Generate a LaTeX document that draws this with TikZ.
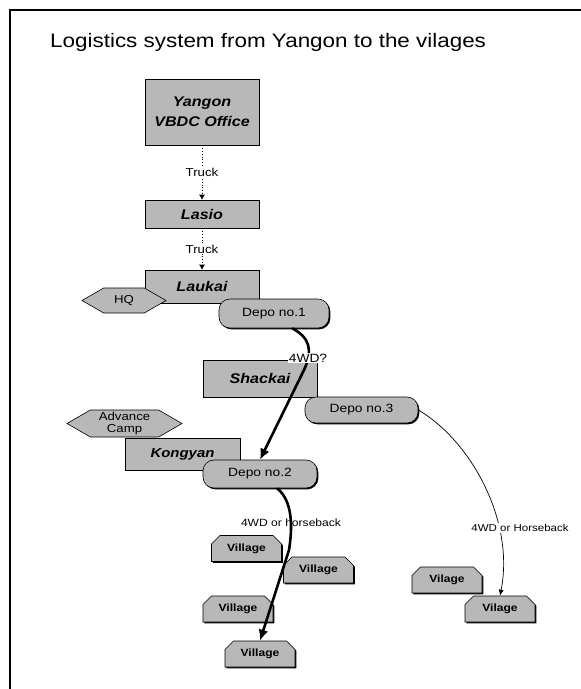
\documentclass[tikz,border=0pt]{standalone}
\usepackage{fontspec}
\setmainfont{Liberation Sans}[FakeStretch=1.15]
\usetikzlibrary{shapes.misc,shapes.symbols,shadows,arrows.meta}
\begin{document}
\begin{tikzpicture}[x=1pt,y=-1pt,
  boxfill/.style={fill=black!28},
  shd/.style={drop shadow={shadow xshift=1.3pt,shadow yshift=-1.3pt,fill=black,opacity=1}},
  place/.style={rectangle, draw=black, line width=0.6pt, boxfill, shd, inner sep=0pt,
    font=\fontsize{14}{20}\selectfont\bfseries\itshape, align=center},
  depo/.style={rectangle, rounded corners=11pt, draw=black, line width=0.6pt, boxfill, shd,
    inner sep=0pt, font=\fontsize{12}{14}\selectfont},
  camp/.style={signal, signal to=east and west, signal pointer angle=60, draw=black,
    line width=0.6pt, boxfill, inner sep=0pt, font=\fontsize{11.5}{12.5}\selectfont, align=center},
  vill/.style={chamfered rectangle, chamfered rectangle corners={north east,north west},
    chamfered rectangle xsep=6pt, draw=black, line width=0.6pt, boxfill, shd, inner sep=0pt,
    minimum width=70pt, minimum height=26pt, font=\fontsize{10.5}{12}\selectfont\bfseries},
  truckline/.style={dotted, line width=0.8pt, -{Latex[length=5pt,width=6pt]}},
  heavyline/.style={line width=2.6pt, -{Latex[length=11pt,width=10pt]}},
  lightline/.style={line width=0.7pt, -{Latex[length=6pt,width=5pt]}},
  lbl/.style={inner sep=1pt, font=\fontsize{11.5}{13}\selectfont}
]
\useasboundingbox (0,0) rectangle (581,689);
\fill[white] (0,0) rectangle (581,689);
% frame
\coordinate (fa) at (10,689);
\coordinate (fb) at (10,10);
\coordinate (fc) at (581,10);
\draw[line width=1.4pt] (fa) -- (fb) -- (fc);
% title
\node[anchor=west, inner sep=0pt, font=\fontsize{19.5}{22}\selectfont] (title) at (50,42)
  {Logistics system from Yangon to the vilages};
% top chain
\node[place, minimum width=114pt, minimum height=66pt] (yangon) at (202,112) {Yangon\\VBDC Office};
\node[place, minimum width=114pt, minimum height=28pt] (lasio) at (202,214) {Lasio};
\draw[truckline] (yangon.south) -- (lasio.north) node[midway, lbl, fill=white] (t1) {Truck};
\node[place, minimum width=114pt, minimum height=33pt] (laukai) at (202,286.5) {Laukai};
\draw[truckline] (lasio.south) -- (laukai.north) node[midway, lbl, fill=white] (t2) {Truck};
\node[camp, minimum width=84pt, minimum height=25pt] (hq) at (124,300.5) {HQ};
\node[depo, minimum width=110pt, minimum height=29pt] (d1) at (274,313.5) {Depo no.1};
\node[place, minimum width=114pt, minimum height=37pt] (shackai) at (260,378.5) {Shackai};
\node[depo, minimum width=113pt, minimum height=26pt] (d3) at (361.5,410) {Depo no.3};
\node[place, minimum width=115pt, minimum height=32pt, font=\fontsize{13}{15}\selectfont\bfseries\itshape] (kongyan) at (182.5,454) {Kongyan};
\node[camp, minimum width=115pt, minimum height=27pt] (adv) at (124.5,423.5) {Advance\\Camp};
\node[depo, minimum width=114pt, minimum height=28pt] (d2) at (260,474) {Depo no.2};
% villages
\node[vill] (v1) at (246.5,548.5) {Village};
\node[vill] (v2) at (318.5,570) {Village};
\node[vill] (v3) at (238,609) {Village};
\node[vill] (v4) at (260,654) {Village};
\node[vill] (v5) at (447,580) {Vilage};
\node[vill] (v6) at (500,609) {Vilage};
% connectors
\draw[heavyline] (d1.-39) .. controls (310,338) and (313,350) .. (304,370) -- (d2.north);
\draw[heavyline] (d2.-40) .. controls (292,500) and (293,525) .. (289,550) -- (v4.north);
\draw[lightline] (d3.east) .. controls (470,440) and (515,520) .. (v6.north);
% labels
\node[lbl, fill=white, font=\fontsize{12}{14}\selectfont] (l1) at (308,358) {4WD?};
\node[lbl, font=\fontsize{10.5}{12}\selectfont] (l2) at (291,523) {4WD or horseback};
\node[lbl, fill=white, font=\fontsize{10}{11}\selectfont] (l3) at (520,528) {4WD or Horseback};
\end{tikzpicture}
\end{document}
